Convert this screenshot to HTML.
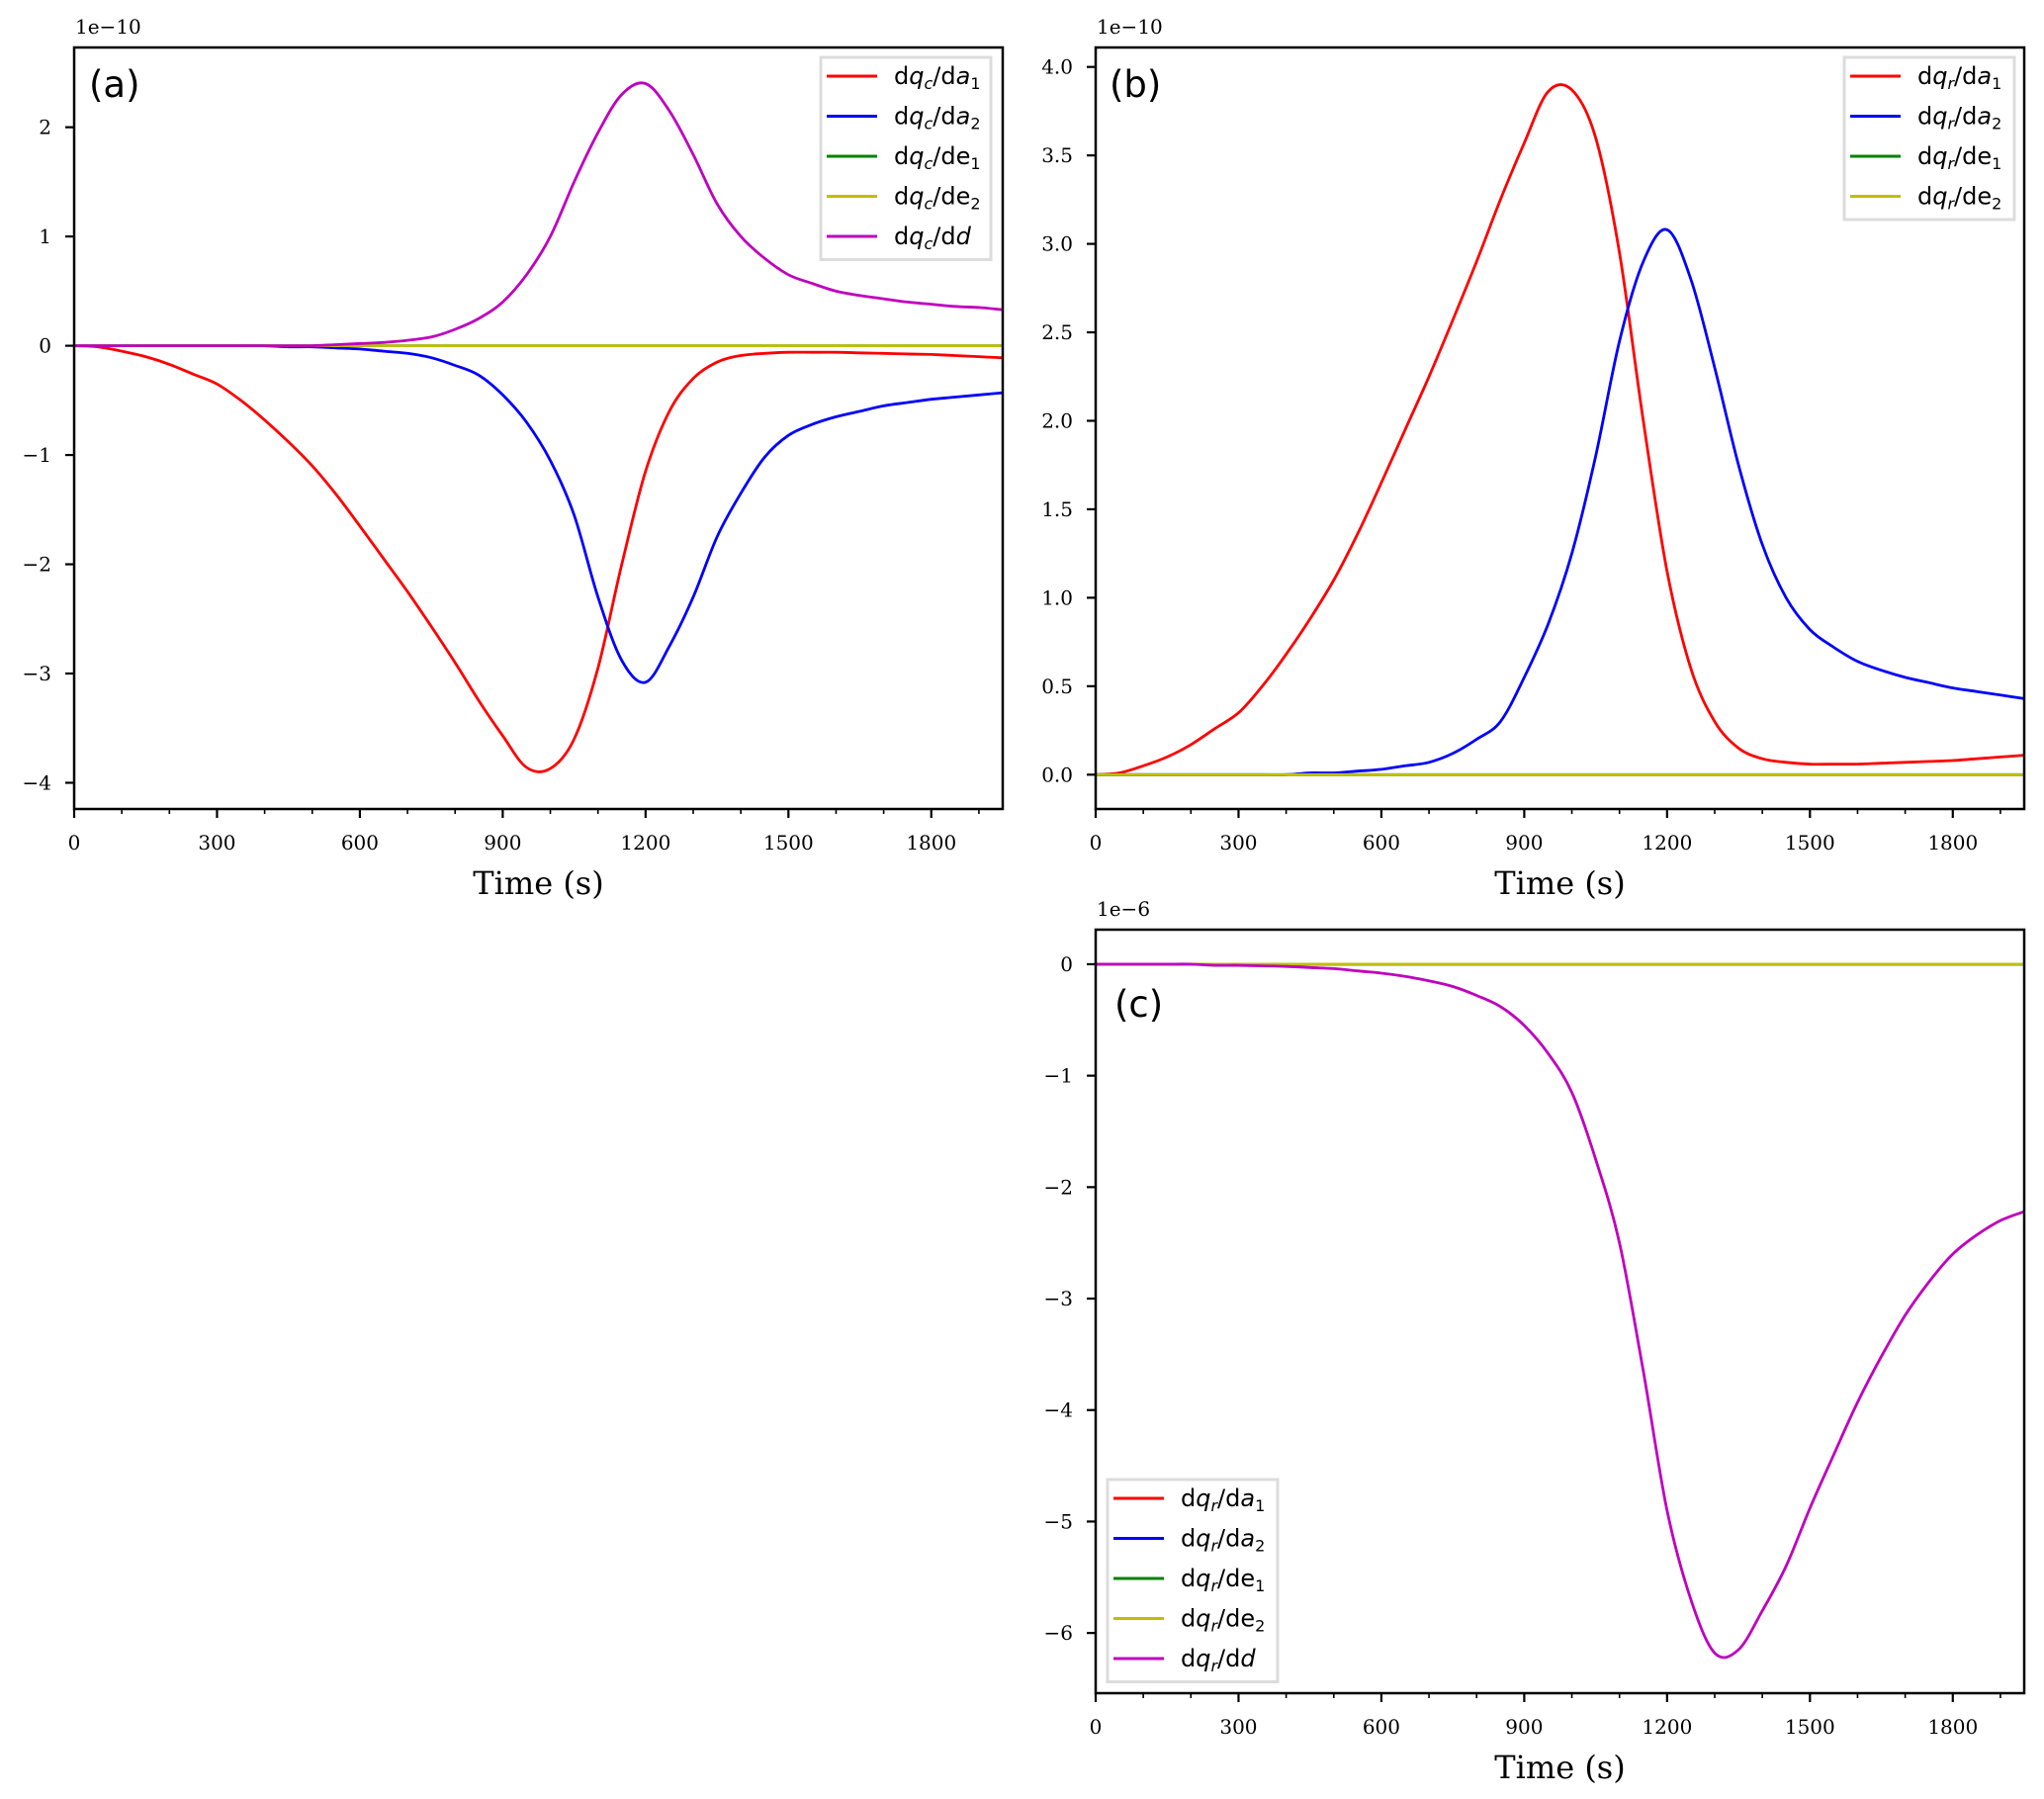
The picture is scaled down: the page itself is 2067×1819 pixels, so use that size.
<!DOCTYPE html>
<html><head><meta charset="utf-8"><style>
body{margin:0;background:#fff;}
svg{display:block;}
.tick{font-family:"DejaVu Serif","Liberation Serif",serif;font-size:20px;fill:#000;}
.xl{font-family:"DejaVu Serif","Liberation Serif",serif;font-size:32px;fill:#000;}
.lg{font-family:"DejaVu Sans","Liberation Sans",sans-serif;font-size:24px;fill:#000;}
.pl{font-family:"DejaVu Sans","Liberation Sans",sans-serif;font-size:37px;fill:#000;}
</style></head><body>
<svg id="fig" width="2067" height="1819" viewBox="0 0 2067 1819" xmlns="http://www.w3.org/2000/svg"></svg>
<script>
const times=[0,50,100,150,200,250,300,350,400,450,500,550,600,650,700,750,800,850,900,950,1000,1050,1100,1150,1200,1250,1300,1350,1400,1450,1500,1550,1600,1650,1700,1750,1800,1850,1900,1950];
const aRed=[0,-0.01,-0.05,-0.1,-0.17,-0.26,-0.35,-0.5,-0.68,-0.88,-1.1,-1.36,-1.65,-1.95,-2.25,-2.57,-2.9,-3.25,-3.57,-3.86,-3.87,-3.6,-2.95,-2.0,-1.15,-0.6,-0.3,-0.15,-0.09,-0.07,-0.06,-0.06,-0.06,-0.065,-0.07,-0.075,-0.08,-0.09,-0.1,-0.11];
const aBlue=[0,0,0,0,0,0,0,0,0,-0.01,-0.01,-0.02,-0.03,-0.05,-0.07,-0.11,-0.18,-0.27,-0.45,-0.7,-1.05,-1.55,-2.3,-2.88,-3.08,-2.75,-2.3,-1.75,-1.35,-1.02,-0.82,-0.72,-0.65,-0.6,-0.55,-0.52,-0.49,-0.47,-0.45,-0.43];
const aMag=[0,0,0,0,0,0,0,0,0,0,0,0.01,0.02,0.03,0.05,0.08,0.15,0.25,0.4,0.65,1.0,1.5,1.95,2.3,2.4,2.15,1.75,1.3,1.0,0.8,0.65,0.57,0.5,0.46,0.43,0.4,0.38,0.36,0.35,0.33];
const bRed=[0,0.01,0.05,0.1,0.17,0.26,0.35,0.5,0.68,0.88,1.1,1.36,1.65,1.95,2.25,2.57,2.9,3.25,3.57,3.86,3.87,3.6,2.95,2.0,1.15,0.6,0.3,0.15,0.09,0.07,0.06,0.06,0.06,0.065,0.07,0.075,0.08,0.09,0.1,0.11];
const bBlue=[0,0,0,0,0,0,0,0,0,0.01,0.01,0.02,0.03,0.05,0.07,0.12,0.2,0.3,0.55,0.85,1.25,1.8,2.45,2.9,3.08,2.8,2.3,1.75,1.3,1.0,0.82,0.72,0.64,0.59,0.55,0.52,0.49,0.47,0.45,0.43];
const cMag=[0,0,0,0,0,-0.01,-0.01,-0.015,-0.02,-0.03,-0.04,-0.06,-0.08,-0.11,-0.15,-0.2,-0.28,-0.38,-0.55,-0.8,-1.15,-1.75,-2.5,-3.65,-4.9,-5.7,-6.18,-6.15,-5.8,-5.4,-4.88,-4.4,-3.93,-3.52,-3.15,-2.85,-2.6,-2.43,-2.3,-2.22];
const xTicks=[0,300,600,900,1200,1500,1800];
const xMinor=[100,200,400,500,700,800,1000,1100,1300,1400,1600,1700,1900];
const aYTicks=[-4,-3,-2,-1,0,1,2];
const aYLabels=["\u22124","\u22123","\u22122","\u22121","0","1","2"];
const bYTicks=[0,0.5,1,1.5,2,2.5,3,3.5,4];
const bYLabels=["0.0","0.5","1.0","1.5","2.0","2.5","3.0","3.5","4.0"];
const cYTicks=[-6,-5,-4,-3,-2,-1,0];
const cYLabels=["\u22126","\u22125","\u22124","\u22123","\u22122","\u22121","0"];

const NS="http://www.w3.org/2000/svg";
const fig=document.getElementById('fig');
function mk(tag,attrs,parent){const e=document.createElementNS(NS,tag);for(const k in attrs)e.setAttribute(k,attrs[k]);(parent||fig).appendChild(e);return e;}
function smooth(pts){
  let d='M'+pts[0][0].toFixed(1)+' '+pts[0][1].toFixed(1);
  for(let i=0;i<pts.length-1;i++){
    const p0=pts[Math.max(0,i-1)],p1=pts[i],p2=pts[i+1],p3=pts[Math.min(pts.length-1,i+2)];
    const c1x=p1[0]+(p2[0]-p0[0])/6,c1y=p1[1]+(p2[1]-p0[1])/6;
    const c2x=p2[0]-(p3[0]-p1[0])/6,c2y=p2[1]-(p3[1]-p1[1])/6;
    d+='C'+c1x.toFixed(1)+' '+c1y.toFixed(1)+' '+c2x.toFixed(1)+' '+c2y.toFixed(1)+' '+p2[0].toFixed(1)+' '+p2[1].toFixed(1);
  }
  return d;
}
function panel(o){
  const g=mk('g',{});
  
  
  const L=o.L,R=o.R,T=o.T,B=o.B;
  const xs=t=>L+(t-0)/(1950-0)*(R-L);
  const ys=v=>B-(v-o.ymin)/(o.ymax-o.ymin)*(B-T);
  o.series.forEach(s=>{
    const vals=s.vals||times.map(()=>0);
    const pts=vals.map((v,i)=>[xs(times[i]),ys(v)]);
    const p=mk('path',{d:smooth(pts),fill:'none',stroke:s.color,'stroke-width':2.8,'stroke-linejoin':'round'},g);
    
    
  });
  const fr=mk('rect',{x:L,y:T,width:R-L,height:B-T,fill:'none',stroke:'#000','stroke-width':2.5},g);
  
  
  xTicks.forEach(t=>{
    mk('line',{x1:xs(t),x2:xs(t),y1:B,y2:B+9,stroke:'#000','stroke-width':2.2},g);
    const tx=mk('text',{x:xs(t),y:B+41,'text-anchor':'middle',class:'tick'},g);tx.textContent=t;
    
    
  });
  xMinor.forEach(t=>{if(xs(t)<R)mk('line',{x1:xs(t),x2:xs(t),y1:B,y2:B+5,stroke:'#000','stroke-width':1.6},g);});
  o.yt.forEach((v,i)=>{
    mk('line',{x1:L-9,x2:L,y1:ys(v),y2:ys(v),stroke:'#000','stroke-width':2.2},g);
    const tx=mk('text',{x:L-23,y:ys(v)+7,'text-anchor':'end',class:'tick'},g);tx.textContent=o.yl[i];
    
    
  });
  const off=mk('text',{x:L+1,y:T-14,class:'tick'},g);off.textContent=o.off;
  
  
  const xl=mk('text',{x:(L+R)/2,y:B+86,'text-anchor':'middle',class:'xl'},g);xl.textContent='Time (s)';
  
  
  const pl=mk('text',{x:o.plx,y:o.ply,class:'pl'},g);pl.textContent=o.tag;
  
  
  const lg=mk('g',{},g);
  
  
  const n=o.legend.length;
  mk('rect',{x:o.lx,y:o.ly,width:172,height:n*40.5+2,fill:'#fff',stroke:'#dcdcdc','stroke-width':3},lg);
  o.legend.forEach((e,i)=>{
    const cy=o.ly+19+i*40.5;
    const en=mk('g',{},lg);
    
    
    mk('line',{x1:o.lx+6,x2:o.lx+57,y1:cy,y2:cy,stroke:e[0],'stroke-width':3},en);
    const t=mk('text',{x:o.lx+74,y:cy+8,class:'lg'},en);
    t.innerHTML='d<tspan font-style="italic">q</tspan><tspan font-style="italic" font-size="16" dy="5">'+o.sub+'</tspan><tspan dy="-5">/d</tspan>'+e[1];
  });
}
const legA=[['#ff0000','<tspan font-style="italic">a</tspan><tspan font-size="16" dy="5">1</tspan>'],['#0000ff','<tspan font-style="italic">a</tspan><tspan font-size="16" dy="5">2</tspan>'],['#008000','e<tspan font-size="16" dy="5">1</tspan>'],['#bfbf00','e<tspan font-size="16" dy="5">2</tspan>'],['#bf00bf','<tspan font-style="italic">d</tspan>']];
panel({name:'panel-a',L:75,R:1014,T:48,B:818,ymin:-4.24,ymax:2.73,yt:aYTicks,yl:aYLabels,off:'1e\u221210',tag:'(a)',plx:90,ply:98,sub:'c',lx:830,ly:58,legend:legA,
 series:[{id:'line-dqc-da1',color:'#ff0000',vals:aRed},{id:'line-dqc-da2',color:'#0000ff',vals:aBlue},{id:'line-dqc-de1',color:'#008000'},{id:'line-dqc-de2',color:'#bfbf00'},{id:'line-dqc-dd',color:'#bf00bf',vals:aMag}]});
panel({name:'panel-b',L:1108,R:2047,T:48,B:818,ymin:-0.194,ymax:4.11,yt:bYTicks,yl:bYLabels,off:'1e\u221210',tag:'(b)',plx:1122,ply:98,sub:'r',lx:1865,ly:58,legend:legA.slice(0,4),
 series:[{id:'line-dqr-da1',color:'#ff0000',vals:bRed},{id:'line-dqr-da2',color:'#0000ff',vals:bBlue},{id:'line-dqr-de1',color:'#008000'},{id:'line-dqr-de2',color:'#bfbf00'}]});
panel({name:'panel-c',L:1108,R:2047,T:940,B:1712,ymin:-6.54,ymax:0.31,yt:cYTicks,yl:cYLabels,off:'1e\u22126',tag:'(c)',plx:1127,ply:1028,sub:'r',lx:1120,ly:1496,legend:legA,
 series:[{id:'line-dqr-da1-c',color:'#ff0000'},{id:'line-dqr-da2-c',color:'#0000ff'},{id:'line-dqr-de1-c',color:'#008000'},{id:'line-dqr-de2-c',color:'#bfbf00'},{id:'line-dqr-dd',color:'#bf00bf',vals:cMag}]});
</script>
</body></html>
